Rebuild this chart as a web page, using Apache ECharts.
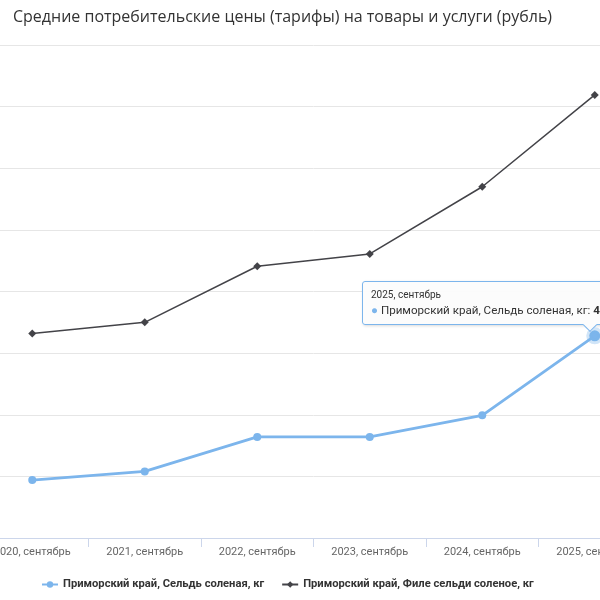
<!DOCTYPE html>
<html>
<head>
<meta charset="utf-8">
<script src="https://cdn.jsdelivr.net/npm/echarts@6/dist/echarts.min.js"></script>
<style>
html,body{margin:0;padding:0;overflow:hidden;background:#fff;width:600px;height:600px;position:relative;}
#main{position:absolute;left:-24px;top:0;width:675px;height:600px;}
</style>
</head>
<body>
<div id="main"></div>
<script>
const categories = ['2020, сентябрь','2021, сентябрь','2022, сентябрь','2023, сентябрь','2024, сентябрь','2025, сентябрь'];
const seriesNames = ['Приморский край, Сельдь соленая, кг','Приморский край, Филе сельди соленое, кг'];
const herring = [194, 208, 264, 264, 299, 428];
const fillet = [432, 450, 541, 561, 670, 819];
const titleText = 'Средние потребительские цены (тарифы) на товары и услуги (рубль)';
const highlightIndex = 5;

const chart = echarts.init(document.getElementById('main'));
const herringData = herring.map((v, i) => i === highlightIndex ? {
  value: v, symbolSize: 11,
  itemStyle: {borderColor: 'rgba(124,181,236,0.35)', borderWidth: 6}
} : v);

chart.setOption({
  animation: false,
  title: {
    text: titleText, left: 32, top: 4,
    textStyle: {fontFamily: 'Open Sans', fontSize: 16, fontWeight: 'normal', color: '#333'}
  },
  grid: {left: 0, right: 0, top: 45, bottom: 62, containLabel: false},
  legend: {
    bottom: 5, left: 60, itemGap: 17, itemWidth: 16, itemHeight: 8,
    textStyle: {fontFamily: 'Roboto', fontSize: 11.2, fontWeight: 'bold', color: '#333'},
    data: seriesNames
  },
  tooltip: {
    trigger: 'item', alwaysShowContent: true, transitionDuration: 0,
    position: [386, 281],
    backgroundColor: 'rgba(252,252,252,0.93)', borderColor: '#7cb5ec', borderWidth: 1,
    padding: [6, 8], extraCssText: 'border-radius:3px;box-shadow:1px 1px 3px rgba(0,0,0,0.15);overflow:visible;',
    formatter: function (p) {
      return '<div style="font-family:Roboto;font-size:10px;color:#333;line-height:14px">' + p.name + '</div>' +
        '<div style="font-family:Roboto;font-size:11.6px;color:#333;line-height:16px;white-space:nowrap">' +
        '<span style="color:' + p.color + '">\u25CF</span> ' + p.seriesName + ': <b>' + p.value + '</b></div>' +
        '<div style="position:absolute;left:222px;bottom:-6px;width:9px;height:9px;background:rgba(252,252,252,1);' +
        'border-right:1px solid #7cb5ec;border-bottom:1px solid #7cb5ec;transform:rotate(45deg);"></div>';
    }
  },
  xAxis: {
    type: 'category', data: categories, boundaryGap: true,
    axisLine: {lineStyle: {color: '#ccd6eb'}},
    axisTick: {show: true, length: 9, lineStyle: {color: '#ccd6eb'}},
    axisLabel: {fontFamily: 'Roboto', fontSize: 11, color: '#666', margin: 9, interval: 0}
  },
  yAxis: {
    type: 'value', min: 100, max: 900, interval: 100,
    axisLabel: {show: false}, axisLine: {show: false}, axisTick: {show: false},
    splitLine: {lineStyle: {color: '#e6e6e6'}}
  },
  series: [
    {
      name: seriesNames[0], type: 'line', data: herringData,
      color: '#7cb5ec', symbol: 'circle', symbolSize: 8,
      lineStyle: {width: 2.8}, emphasis: {disabled: true}
    },
    {
      name: seriesNames[1], type: 'line', data: fillet,
      color: '#434348', symbol: 'diamond', symbolSize: 8,
      lineStyle: {width: 1.5}, emphasis: {disabled: true}
    }
  ]
});
chart.dispatchAction({type: 'showTip', seriesIndex: 0, dataIndex: highlightIndex});
</script>
</body>
</html>
